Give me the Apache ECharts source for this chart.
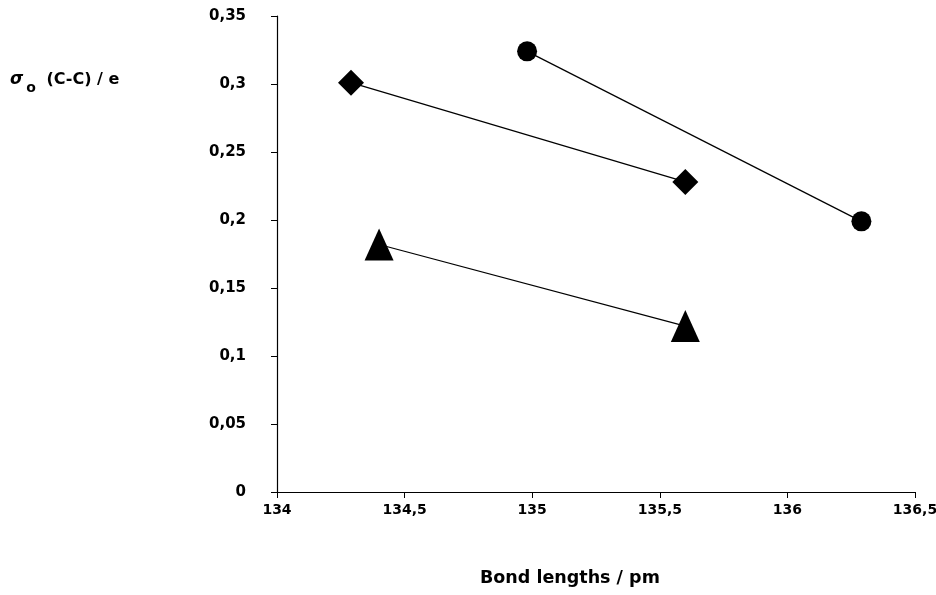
<!DOCTYPE html>
<html lang="en">

<head>
    <meta charset="UTF-8">
    <title>Bond lengths</title>
    <script src="https://cdn.jsdelivr.net/npm/echarts@6/dist/echarts.min.js"></script>
    <style>
        * {
            margin: 0;
            padding: 0;
        }

        #main {
            width: 936px;
            height: 595px;
            background: #fff;
        }
    </style>
</head>

<body>
    <div id="main"></div>
    <script>
        // data: [bond length / pm, sigma]
        let circleData = [[134.98, 0.324], [136.29, 0.199]];
        let diamondData = [[134.29, 0.301], [135.6, 0.228]];
        let triangleData = [[134.4, 0.182], [135.6, 0.122]];
        let xTicks = [134, 134.5, 135, 135.5, 136, 136.5];
        let yTicks = [0, 0.05, 0.1, 0.15, 0.2, 0.25, 0.3, 0.35];

        let myChart = echarts.init(document.getElementById('main'));
        let font = 'DejaVu Sans';
        let comma = v => String(v).replace('.', ',');

        function lineSeries(data, symbol, size) {
            return {
                type: 'line',
                data: data,
                symbol: symbol,
                symbolSize: size,
                showAllSymbol: true,
                lineStyle: { color: '#000', width: 1.2 },
                itemStyle: { color: '#000' },
                animation: false
            };
        }

        let option = {
            backgroundColor: '#fff',
            grid: { left: 277, right: 21, top: 16, bottom: 103, containLabel: false, outerBoundsMode: 'none' },
            xAxis: {
                type: 'value',
                min: xTicks[0],
                max: xTicks[xTicks.length - 1],
                interval: 0.5,
                splitLine: { show: false },
                axisLine: { lineStyle: { color: '#000', width: 1.2 } },
                axisTick: { length: 6, lineStyle: { color: '#000' } },
                axisLabel: {
                    color: '#000', fontFamily: font, fontWeight: 'bold', fontSize: 14, margin: 11,
                    formatter: comma
                }
            },
            yAxis: {
                type: 'value',
                min: yTicks[0],
                max: yTicks[yTicks.length - 1],
                interval: 0.05,
                splitLine: { show: false },
                axisLine: { show: true, lineStyle: { color: '#000', width: 1.2 } },
                axisTick: { show: true, length: 6, lineStyle: { color: '#000' } },
                axisLabel: {
                    color: '#000', fontFamily: font, fontWeight: 'bold', fontSize: 15, margin: 31,
                    formatter: comma
                }
            },
            graphic: [{
                type: 'text',
                left: 10,
                top: 71,
                style: {
                    text: '{s|σ}{o|o} (C-C) / e',
                    fill: '#000',
                    font: 'bold 16px ' + font,
                    rich: {
                        s: { fontStyle: 'italic', fontWeight: 'bold', fontSize: 17, fontFamily: font, padding: [0, 3, 0, 0] },
                        o: { fontSize: 14, fontWeight: 'bold', fontFamily: font, padding: [18, 5, 0, 0] }
                    }
                }
            }, {
                type: 'text',
                left: 480,
                top: 569,
                style: {
                    text: 'Bond lengths / pm',
                    fill: '#000',
                    font: 'bold 17.5px ' + font
                }
            }],
            series: [
                lineSeries(circleData, 'circle', 20),
                lineSeries(diamondData, 'diamond', 26),
                lineSeries(triangleData, 'triangle', [29, 32])
            ]
        };

        myChart.setOption(option);
    </script>
</body>

</html>
